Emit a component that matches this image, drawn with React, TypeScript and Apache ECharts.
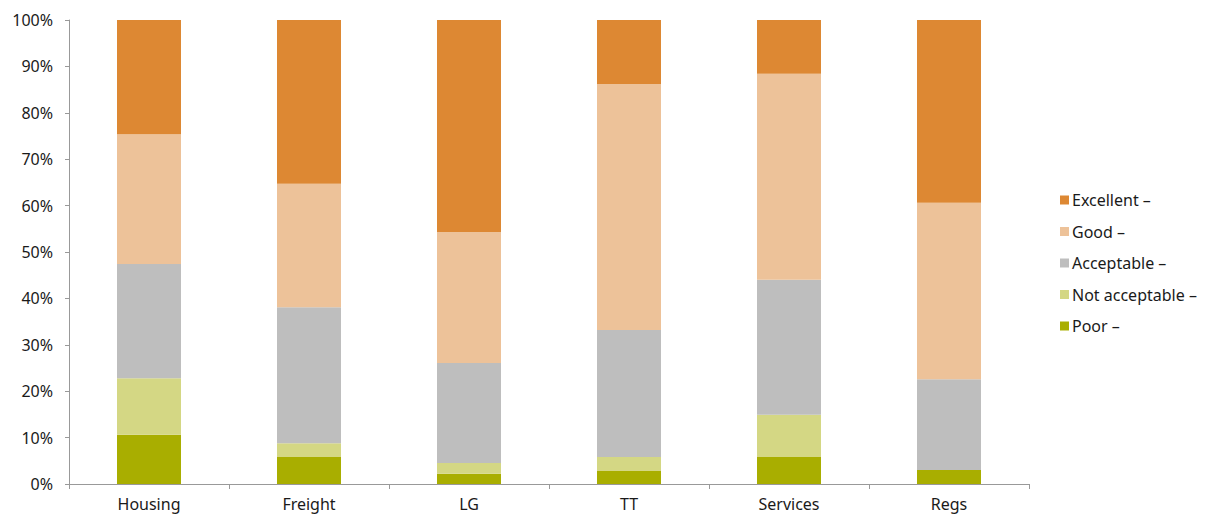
import React, { useEffect, useRef } from "react";
import * as echarts from "echarts";

const categories = ["Housing", "Freight", "LG", "TT", "Services", "Regs"];
const poor = [10.6, 5.8, 2.2, 2.8, 5.8, 3.0];
const notAcceptable = [12.2, 3.0, 2.3, 3.0, 9.1, 0];
const acceptable = [24.6, 29.3, 21.6, 27.4, 29.1, 19.6];
const good = [28.0, 26.6, 28.2, 53.0, 44.4, 38.0];
const excellent = [24.6, 35.3, 45.7, 13.8, 11.6, 39.4];

const seriesNames = ["Poor –", "Not acceptable –", "Acceptable –", "Good –", "Excellent –"];
const seriesData = [poor, notAcceptable, acceptable, good, excellent];
const seriesColors = ["#A9AE00", "#D4D784", "#BEBEBE", "#EDC299", "#DD8833"];

const FONT = "'Noto Sans', 'Open Sans', sans-serif";

export default function App() {
  const ref = useRef<HTMLDivElement>(null);
  useEffect(() => {
    if (!ref.current) return;
    const chart = echarts.init(ref.current, undefined, { renderer: "svg" });
    chart.setOption({
      animation: false,
      textStyle: { fontFamily: FONT },
      grid: { left: 69, right: 182, top: 20, bottom: 31, containLabel: false },
      legend: {
        orient: "vertical",
        left: 1055,
        top: 187,
        itemWidth: 9,
        itemHeight: 9,
        itemGap: 15.5,
        icon: "rect",
        data: [...seriesNames].reverse(),
        textStyle: { fontSize: 16, color: "#1a1a1a", fontFamily: FONT, padding: [0, 0, 0, -2] },
      },
      xAxis: {
        type: "category",
        data: categories,
        axisLine: { lineStyle: { color: "#999" } },
        axisTick: { show: true, length: 5, alignWithLabel: false, lineStyle: { color: "#999" } },
        axisLabel: { fontSize: 16, color: "#1a1a1a", margin: 12, fontFamily: FONT },
      },
      yAxis: {
        type: "value",
        min: 0,
        max: 100,
        interval: 10,
        splitLine: { show: false },
        axisLine: { show: true, lineStyle: { color: "#999" } },
        axisTick: { show: true, length: 4, lineStyle: { color: "#999" } },
        axisLabel: { fontSize: 16, color: "#1a1a1a", margin: 16, formatter: "{value}%", fontFamily: FONT },
      },
      series: seriesNames.map((name, i) => ({
        name,
        type: "bar",
        stack: "total",
        barWidth: 64,
        data: seriesData[i],
        itemStyle: { color: seriesColors[i] },
      })),
    });
    return () => chart.dispose();
  }, []);
  return <div ref={ref} style={{ width: 1211, height: 515, position: "absolute", left: 0, top: 0 }} />;
}
